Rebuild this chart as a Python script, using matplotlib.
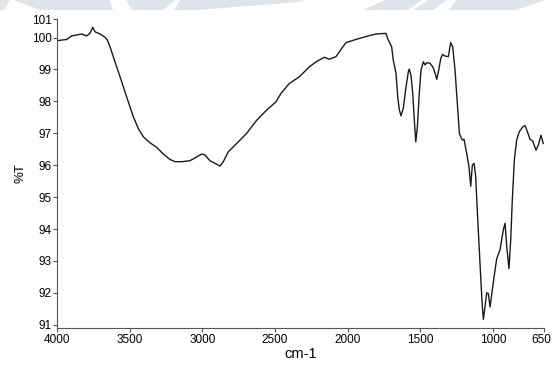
import matplotlib
matplotlib.use("Agg")
import matplotlib.pyplot as plt
import matplotlib.transforms as mtransforms
from matplotlib.patches import Polygon

# --------------------------------------------------------------------------- #
# Spectrum (wavenumber cm-1, %T)
# --------------------------------------------------------------------------- #

wavenumber = [
    4000, 3968, 3933, 3899, 3864, 3830, 3796, 3773, 3754, 3739,
    3704, 3670, 3654, 3635, 3613, 3578, 3544, 3510, 3475, 3441,
    3406, 3360, 3314, 3269, 3223, 3188, 3142, 3085, 3039, 3005,
    2982, 2948, 2913, 2879, 2856, 2822, 2764, 2695, 2626, 2557,
    2493, 2459, 2402, 2333, 2264, 2218, 2161, 2127, 2081, 2046,
    2012, 1943, 1874, 1806, 1737, 1721, 1698, 1687, 1668, 1656,
    1645, 1634, 1618, 1599, 1583, 1577, 1565, 1553, 1542, 1532,
    1521, 1508, 1496, 1480, 1468, 1457, 1434, 1415, 1399, 1388,
    1374, 1360, 1347, 1331, 1308, 1292, 1278, 1262, 1246, 1232,
    1223, 1212, 1200, 1182, 1166, 1154, 1143, 1131, 1120, 1109,
    1095, 1083, 1074, 1067, 1056, 1044, 1033, 1021, 1006, 987,
    975, 953, 930, 918, 906, 891, 879, 868, 854, 838,
    820, 796, 780, 768, 746, 728, 705, 689, 671, 655,
]

transmittance = [
    99.90, 99.92, 99.94, 100.05, 100.08, 100.11, 100.05, 100.13, 100.32, 100.18,
    100.11, 100.01, 99.92, 99.71, 99.40, 98.93, 98.46, 97.99, 97.52, 97.15,
    96.89, 96.70, 96.56, 96.35, 96.18, 96.11, 96.11, 96.14, 96.26, 96.35,
    96.32, 96.14, 96.06, 95.97, 96.11, 96.42, 96.68, 97.00, 97.41, 97.73,
    97.99, 98.25, 98.56, 98.77, 99.08, 99.24, 99.38, 99.32, 99.40, 99.63,
    99.84, 99.94, 100.03, 100.11, 100.13, 99.92, 99.71, 99.29, 98.88, 98.14,
    97.73, 97.55, 97.78, 98.46, 98.93, 99.01, 98.82, 98.25, 97.41, 96.73,
    97.20, 98.25, 98.98, 99.24, 99.14, 99.21, 99.19, 99.08, 98.88, 98.69,
    98.98, 99.35, 99.47, 99.42, 99.40, 99.84, 99.71, 98.98, 97.94, 97.00,
    96.89, 96.79, 96.81, 96.37, 95.95, 95.34, 96.00, 96.06, 95.64, 94.59,
    93.34, 92.29, 91.56, 91.17, 91.56, 92.00, 91.98, 91.56, 92.08, 92.71,
    93.08, 93.34, 93.97, 94.18, 93.44, 92.76, 93.65, 94.91, 96.16, 96.79,
    97.05, 97.20, 97.24, 97.10, 96.81, 96.76, 96.47, 96.63, 96.94, 96.68,
]

x_ticks = [4000, 3500, 3000, 2500, 2000, 1500, 1000, 650]
y_ticks = [91, 92, 93, 94, 95, 96, 97, 98, 99, 100]
y_top = 100.58  # axis end, labelled "101" in the original

# faint watermark shapes along the top edge (figure pixels, y from top)
watermark = [
    [(0, 0), (10, 0), (4, 10), (0, 10)],
    [(14, 0), (110, 0), (113, 10), (40, 10)],
    [(126, 0), (175, 0), (163, 10), (132, 10)],
    [(180, 0), (305, 0), (298, 2), (198, 10), (174, 10)],
    [(385, 0), (422, 0), (408, 10), (363, 10)],
    [(428, 0), (447, 0), (433, 10), (413, 10)],
    [(456, 0), (545, 0), (516, 10), (449, 10)],
]

plt.rcParams["font.family"] = ["Liberation Sans", "DejaVu Sans"]

W, H = 552, 365
fig = plt.figure(figsize=(W / 100, H / 100), dpi=100)

for poly in watermark:
    pts = [(px / W, 1 - py / H) for px, py in poly]
    fig.patches.append(Polygon(pts, closed=True, transform=fig.transFigure,
                               facecolor="#dde5ea", edgecolor="none", zorder=0))

ax = fig.add_axes([57 / W, 1 - 328 / H, (544 - 57) / W, (328 - 19) / H])
ax.patch.set_alpha(0)

ax.plot(wavenumber, transmittance, color="#1a1a1a", linewidth=1.0)

ax.set_xlim(4000, 650)
ax.set_ylim(90.9, y_top)
ax.set_xticks(x_ticks)
ax.set_xticklabels([str(t) for t in x_ticks])
ax.set_yticks(y_ticks + [y_top])
ax.set_yticklabels([str(t) for t in y_ticks] + ["101"])

for side in ("top", "right"):
    ax.spines[side].set_visible(False)
for side in ("left", "bottom"):
    ax.spines[side].set_color("#555555")
    ax.spines[side].set_linewidth(0.8)

ax.tick_params(direction="out", length=3, width=0.8, color="#555555",
               labelsize=8.5, pad=1)

# "650" sits flush against the right edge of the image in the original
last = ax.get_xticklabels()[-1]
last.set_horizontalalignment("right")
last.set_transform(last.get_transform()
                   + mtransforms.ScaledTranslation(7 / 100, 0, fig.dpi_scale_trans))

ax.set_ylabel("%T", fontsize=9.5, labelpad=4)
ax.set_xlabel("cm-1", fontsize=10.5, labelpad=1)

fig.savefig("out.png", dpi=100)
